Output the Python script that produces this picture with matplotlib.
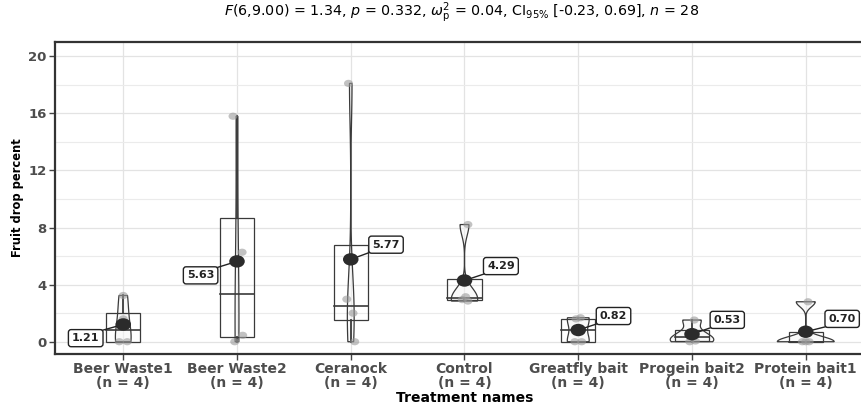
import numpy as np
import matplotlib
matplotlib.use("Agg")
import matplotlib.pyplot as plt
from matplotlib.path import Path
from matplotlib.transforms import Affine2D
from matplotlib.patches import Rectangle, Polygon

plt.rcParams['font.family'] = ['DejaVu Sans']
plt.rcParams['mathtext.fontset'] = 'dejavusans'

# ---------------- data ----------------
categories = ["Beer Waste1", "Beer Waste2", "Ceranock", "Control",
              "Greatfly bait", "Progein bait2", "Protein bait1"]
beer_waste1 = [0.0, 0.0, 1.60, 3.24]
beer_waste2 = [0.0, 0.45, 6.27, 15.80]
ceranock = [0.0, 2.00, 2.98, 18.10]
control = [2.85, 2.95, 3.15, 8.21]
greatfly_bait = [0.0, 0.0, 1.60, 1.68]
progein_bait2 = [0.0, 0.05, 0.55, 1.52]
protein_bait1 = [0.0, 0.0, 0.0, 2.80]
mean_labels = ["1.21", "5.63", "5.77", "4.29", "0.82", "0.53", "0.70"]
n_labels = ["(n = 4)"] * 7
yticks = [0, 4, 8, 12, 16, 20]
title = (r"$\mathit{F}$(6,9.00) = 1.34, $\mathit{p}$ = 0.332, "
         r"$\omega_{\mathrm{p}}^{2}$ = 0.04, CI$_{95\%}$ [-0.23, 0.69], $\mathit{n}$ = 28")

groups = [beer_waste1, beer_waste2, ceranock, control,
          greatfly_bait, progein_bait2, protein_bait1]

# ---------------- style ----------------
jitter = [[-0.035, 0.035, 0.0, 0.0],
          [-0.02, 0.05, 0.045, -0.035],
          [0.035, 0.02, -0.035, -0.02],
          [0.03, -0.02, 0.01, 0.03],
          [-0.03, 0.03, -0.02, 0.02],
          [-0.02, 0.03, 0.0, 0.02],
          [-0.03, 0.03, 0.0, 0.02]]
label_off = [(-0.33, -0.96), (-0.32, -0.98), (0.31, 1.03), (0.32, 1.01),
             (0.31, 0.98), (0.31, 1.0), (0.32, 0.9)]
line_col = '#3a3a3a'
tick_col = '#4d4d4d'

# elliptical marker (reference image is stretched horizontally)
ell = Path.unit_circle().transformed(Affine2D().scale(1.25, 1.0))


def q7(x, p):
    return float(np.quantile(np.asarray(x, float), p))


def bw_nrd0(x):
    x = np.asarray(x, float)
    hi = np.std(x, ddof=1)
    lo = min(hi, (q7(x, .75) - q7(x, .25)) / 1.34)
    if lo == 0:
        lo = hi if hi > 0 else 1.0
    return 0.9 * lo * len(x) ** -0.2


def kde(x):
    x = np.asarray(x, float)
    bw = bw_nrd0(x)
    ys = np.linspace(x.min(), x.max(), 512)
    d = np.exp(-0.5 * ((ys[:, None] - x[None, :]) / bw) ** 2).sum(1)
    d /= (len(x) * bw * np.sqrt(2 * np.pi))
    return ys, d


dens = [kde(g) for g in groups]
dmax = max(d.max() for _, d in dens)

fig = plt.figure(figsize=(8.62, 4.07), dpi=100)
ax = fig.add_axes([55 / 862, 53 / 407, 819 / 862, 312 / 407])
ax.set_xlim(-0.6, 6.6)
ax.set_ylim(-0.86, 21.0)

ax.set_yticks(yticks)
ax.set_yticks([2, 6, 10, 14, 18], minor=True)
ax.set_xticks(range(len(categories)))
ax.set_xticklabels([f"{c}\n{n}" for c, n in zip(categories, n_labels)],
                   fontsize=10, fontweight='bold', color=tick_col, linespacing=0.95)
for t in ax.get_yticklabels():
    t.set_fontsize(9.5)
    t.set_fontweight('bold')
    t.set_color(tick_col)
ax.grid(True, which='major', color='#e3e3e3', lw=0.9)
ax.grid(True, which='minor', axis='y', color='#ebebeb', lw=0.8)
ax.set_axisbelow(True)
ax.tick_params(axis='both', which='major', length=4, width=1, color='#444444', pad=2)
ax.tick_params(axis='y', which='minor', length=0)
for s in ax.spines.values():
    s.set_color('#333333')
    s.set_linewidth(1.6)

for i, g in enumerate(groups):
    ys, d = dens[i]
    hw = 0.25 * d / dmax
    poly = np.column_stack([np.concatenate([i - hw, (i + hw)[::-1]]),
                            np.concatenate([ys, ys[::-1]])])
    ax.add_patch(Polygon(poly, closed=True, facecolor='#f4f4f4', alpha=0.5,
                         edgecolor='none', zorder=2))
    ax.add_patch(Polygon(poly, closed=True, facecolor='none',
                         edgecolor=line_col, lw=0.9, zorder=3))
    # boxplot
    q1, med, q3 = q7(g, .25), q7(g, .5), q7(g, .75)
    iqr = q3 - q1
    arr = np.asarray(g, float)
    up = arr[arr <= q3 + 1.5 * iqr].max()
    lo = arr[arr >= q1 - 1.5 * iqr].min()
    ax.add_patch(Rectangle((i - 0.15, q1), 0.3, q3 - q1, facecolor='none',
                           edgecolor=line_col, lw=0.9, zorder=3))
    ax.plot([i - 0.15, i + 0.15], [med, med], color=line_col, lw=1.2, zorder=3)
    if up > q3:
        ax.plot([i, i], [q3, up], color=line_col, lw=1.3, zorder=3)
    if lo < q1:
        ax.plot([i, i], [lo, q1], color=line_col, lw=1.3, zorder=3)
    # points
    ax.scatter(i + np.array(jitter[i]), g, marker=ell, s=9 ** 2 * 0.52,
               color='#9a9a9a', alpha=0.6, edgecolors='none', zorder=4)
    # mean
    m = float(np.mean(g))
    ax.scatter([i], [m], marker=ell, s=15.5 ** 2 * 0.52, color='#2b2b2b',
               edgecolors='none', zorder=6)
    # label
    lx, ly = i + label_off[i][0], m + label_off[i][1]
    hx, hy = 0.15, 0.56
    nx = min(max(i, lx - hx), lx + hx)
    ny = min(max(m, ly - hy), ly + hy)
    ax.plot([i, nx], [m, ny], color='#222222', lw=1.0, zorder=5)
    ax.text(lx, ly, mean_labels[i], ha='center', va='center', fontsize=8,
            fontweight='bold', color='#222222', zorder=7,
            bbox=dict(boxstyle='round,pad=0.32,rounding_size=0.25', fc='white',
                      ec='#222222', lw=1.0))

ax.set_ylabel("Fruit drop percent", fontsize=8.3, fontweight='bold', labelpad=3)
ax.set_xlabel("Treatment names", fontsize=10, fontweight='bold', labelpad=1)
fig.text(462 / 862, 1 - 13 / 407, title, ha='center', va='center', fontsize=10.3)

fig.savefig("out.png", dpi=100)
